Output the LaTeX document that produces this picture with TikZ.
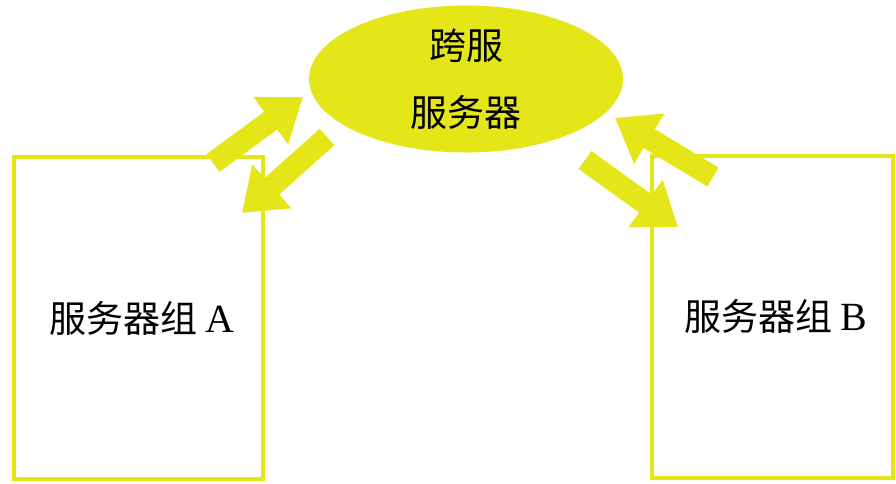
\documentclass[tikz,border=0pt]{standalone}
\usepackage{fontspec}
\setmainfont{Liberation Serif}
\newfontfamily\cjk{Noto Sans CJK SC}
\usetikzlibrary{arrows.meta,shapes.geometric}
\definecolor{ylw}{RGB}{228,230,24}
\tikzset{
  box/.style={draw=ylw, line width=4pt, minimum height=322pt, inner sep=0pt, font=\cjk\fontsize{37}{40}\selectfont},
  hub/.style={ellipse, fill=ylw, minimum width=314pt, minimum height=147pt, inner sep=0pt, align=center, font=\cjk\fontsize{37}{67}\selectfont},
  blockarrow/.style={draw=ylw, line width=22pt, -{Triangle[length=40pt,width=56pt]}}
}
\begin{document}
\begin{tikzpicture}[x=1pt,y=-1pt]
\useasboundingbox (0,0) rectangle (896,483);
\node[hub] (srv) at (466,79) {跨服\\服务器};
\node[box, minimum width=249pt] (ga) at (138.5,318) {\hspace{6pt}服务器组\hspace{8pt}{\rmfamily\fontsize{40}{40}\selectfont A}};
\node[box, minimum width=241pt] (gb) at (772.5,316.5) {\hspace{6pt}服务器组\hspace{8pt}{\rmfamily\fontsize{40}{40}\selectfont B}};
\coordinate (a1s) at (213,163);
\coordinate (a1e) at (303,97);
\coordinate (a2s) at (327,137);
\coordinate (a2e) at (242,213);
\coordinate (b1s) at (585,160);
\coordinate (b1e) at (678,227);
\coordinate (b2s) at (713,177);
\coordinate (b2e) at (615,118);
\draw[blockarrow] (a1s) -- (a1e);
\draw[blockarrow] (a2s) -- (a2e);
\draw[blockarrow] (b1s) -- (b1e);
\draw[blockarrow] (b2s) -- (b2e);
\end{tikzpicture}
\end{document}
